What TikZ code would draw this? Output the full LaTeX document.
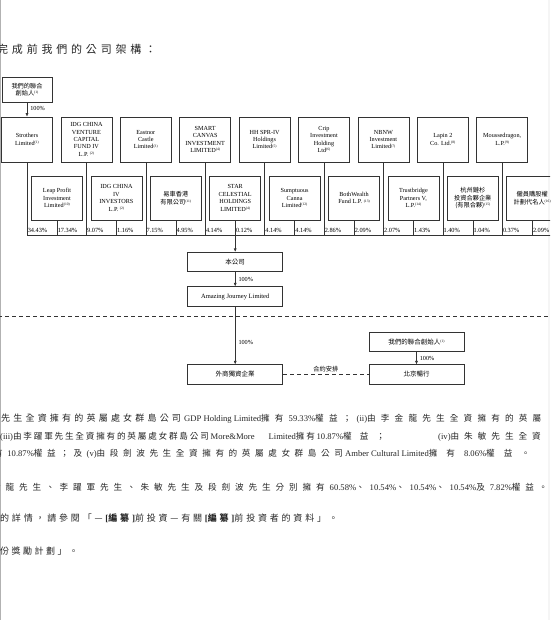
\documentclass[tikz,border=0pt]{standalone}
\usepackage{fontspec}
\setmainfont{Liberation Serif}
\newfontfamily\zh{Noto Sans CJK TC}
\usetikzlibrary{arrows.meta}
\newcommand\sn[1]{\raisebox{1.8pt}{\fontsize{3.6}{3.6}\selectfont(#1)}}
\newdimen\cgap
\def\zsEnd{\zsEnd}
\def\zsA#1{\ifx#1\zsEnd\else#1\kern\cgap\expandafter\zsA\fi}
\newcommand\zs[1]{{\zh\zsA#1\zsEnd}}
\newcommand\zb[1]{{\zh\bfseries\zsA#1\zsEnd}}
\tikzset{
  ln/.style={line width=0.6pt, draw=black!80},
  bx/.style={ln, draw, align=center, inner sep=0pt, font=\fontsize{6.2}{7.4}\selectfont},
  tb/.style={bx, minimum width=51, minimum height=45},
  sb/.style={bx, minimum width=51, minimum height=44},
  wb/.style={bx, minimum width=95, minimum height=19.5, font=\fontsize{6.5}{7.5}\selectfont},
  arr/.style={ln, -{Latex[length=3.5pt,width=3pt]}},
  pct/.style={anchor=base west, inner sep=0pt, font=\fontsize{6.3}{7}\selectfont},
  lbl/.style={inner sep=0pt, font=\fontsize{6.2}{7}\selectfont},
  para/.style={anchor=base west, inner sep=0pt, text=black!85, font=\fontsize{9}{10}\selectfont},
  dsh/.style={ln, dash pattern=on 4pt off 3pt},
}
\begin{document}
\begin{tikzpicture}[x=1pt,y=-1pt]
\useasboundingbox (0,0) rectangle (550,620);
\clip (0,0) rectangle (550,620);
\fill[white] (0,0) rectangle (550,620);
\fill[black!4] (547.5,0) rectangle (550,620);
\draw[black!30, line width=0.8pt] (0.6,0) -- (0.6,620);

% title
\node[anchor=base west, inner sep=0pt, text=black!85, font=\fontsize{11}{12}\selectfont] (title) at (-3,54) {\cgap=3.8pt\zs{完成前我們的公司架構：}};

% founder
\node[bx, minimum width=50, minimum height=25] (f1) at (27,89.5) {{\zh 我們的聯合}\\{\zh 創始人}\sn{1}};

% top row
\node[tb] (t1) at (27,139.5) {Strothers\\Limited\sn{1}};
\node[tb] (t2) at (86.4,139.5) {IDG CHINA\\VENTURE\\CAPITAL\\FUND IV\\L.P. \sn{2}};
\node[tb] (t3) at (145.8,139.5) {Eastnor\\Castle\\Limited\sn{3}};
\node[tb] (t4) at (205.2,139.5) {SMART\\CANVAS\\INVESTMENT\\LIMITED\sn{4}};
\node[tb] (t5) at (264.6,139.5) {HH SPR-IV\\Holdings\\Limited\sn{5}};
\node[tb] (t6) at (324,139.5) {Crip\\Investment\\Holding\\Ltd\sn{6}};
\node[tb] (t7) at (383.4,139.5) {NBNW\\Investment\\Limited\sn{7}};
\node[tb] (t8) at (442.8,139.5) {Lapin 2\\Co. Ltd.\sn{8}};
\node[tb] (t9) at (502.2,139.5) {Moussedragon,\\L.P.\sn{9}};

% second row
\node[sb] (b1) at (57,198) {Leap Profit\\Investment\\Limited\sn{10}};
\node[sb] (b2) at (116.4,198) {IDG CHINA\\IV\\INVESTORS\\L.P. \sn{2}};
\node[sb] (b3) at (175.8,198) {{\zh 易車香港}\\{\zh 有限公司}\sn{11}};
\node[sb] (b4) at (235.2,198) {STAR\\CELESTIAL\\HOLDINGS\\LIMITED\sn{4}};
\node[sb] (b5) at (294.6,198) {Sumptuous\\Canna\\Limited\sn{12}};
\node[sb] (b6) at (354,198) {BothWealth\\Fund L.P. \sn{13}};
\node[sb] (b7) at (413.4,198) {Trustbridge\\Partners V,\\L.P.\sn{14}};
\node[sb] (b8) at (472.8,198) {{\zh 杭州鏈杉}\\{\zh 投資合夥企業}\\{\zh (有限合夥)}\sn{15}};
\node[sb] (b9) at (532.2,198) {{\zh 僱員購股權}\\{\zh 計劃代名人}\sn{16}};

\draw[arr] (f1) -- node[lbl, anchor=west, xshift=3pt, yshift=1pt] {100\%} (t1);

% base line
\coordinate (base) at (0,235);
\coordinate (baseR) at (560,235);
\draw[ln] (t1.south |- base) -- (baseR);
\foreach \n/\p in {t1/34.43, t2/9.07, t3/7.15, t4/4.14, t5/4.14, t6/2.86, t7/2.07, t8/1.40, t9/0.37}{
  \draw[ln] (\n.south) -- (\n.south |- base);
  \node[pct] at ([xshift=0.6pt,yshift=3pt]\n.south |- base) {\p\%};
}
\foreach \n/\p in {b1/17.34, b2/1.16, b3/4.95, b4/0.12, b5/4.14, b6/2.09, b7/1.43, b8/1.04, b9/2.09}{
  \draw[ln] (\n.south) -- (\n.south |- base);
  \node[pct] at ([xshift=0.6pt,yshift=3pt]\n.south |- base) {\p\%};
}

% company chain
\node[wb] (co) at (235.2,262) {\zh 本公司};
\node[wb] (aj) at (235.2,296.5) {Amazing Journey Limited};
\node[wb] (wf) at (235.2,374.5) {\zh 外商獨資企業};
\node[wb] (f2) at (416.5,342) {{\zh 我們的聯合創始人}\sn{1}};
\node[wb] (bj) at (416.5,374.5) {\zh 北京暢行};

\draw[arr] (b4.south) -- (co);
\draw[arr] (co) -- node[lbl, anchor=west, xshift=3pt] {100\%} (aj);
\draw[arr] (aj) -- node[lbl, anchor=west, xshift=3pt, pos=0.62] {100\%} (wf);
\draw[arr] (f2) -- node[lbl, anchor=west, xshift=3pt] {100\%} (bj);
\draw[dsh] (wf) -- node[lbl, above=2.5pt] {\zh 合約安排} (bj);

\coordinate (dl) at (-2,316);
\coordinate (dr) at (552,316);
\draw[dsh] (dl) -- (dr);

% text
\node[para] (p1a) at (1,421.5) {\cgap=3.2pt\zs{先生全資擁有的英屬處女群島公司}};
\node[para] (p1b) at (184,421.5) {\cgap=5.2pt\fontsize{8.6}{10}\selectfont GDP Holding Limited\zs{擁有}59.33\%\zs{權益；}(ii)\zs{由李金龍先生全資擁有的英屬}};
\node[para] (p2a) at (0,439.5) {\cgap=1.8pt\fontsize{8.6}{10}\selectfont(iii)\zs{由李躍軍先生全資擁有的英屬處女群島公司}More\&More\hspace{14pt}Limited\zs{擁有}10.87\%\cgap=8pt\zs{權益；}};
\node[para] (p2b) at (438,439.5) {\cgap=5pt\fontsize{8.6}{10}\selectfont(iv)\zs{由朱敏先生全資}};
\node[para] (p3a) at (-6,456.5) {\cgap=4.6pt\fontsize{8.6}{10}\selectfont\zs{有}10.87\%\zs{權益；及}(v)\zs{由段劍波先生全資擁有的英屬處女群島公司}};
\node[para] (p3b) at (345,456.5) {\cgap=9pt\fontsize{8.6}{10}\selectfont Amber Cultural Limited\zs{擁有}8.06\%\zs{權益。}};
\node[para] (p4) at (-8,490) {\cgap=4.9pt\fontsize{8.6}{10}\selectfont\zs{金龍先生、李躍軍先生、朱敏先生及段劍波先生分別擁有}60.58\%\zs{、}10.54\%\zs{、}10.54\%\zs{、}10.54\%\zs{及}7.82\%\zs{權益。}};
\node[para] (p5) at (0,521) {\cgap=2.8pt\zs{的詳情，請參閱「—}\textbf{[}\zb{編纂}\textbf{]}\zs{前投資—有關}\textbf{[}\zb{編纂}\textbf{]}\zs{前投資者的資料」。}};
\node[para] (p6) at (0,554) {\cgap=2.5pt\zs{份獎勵計劃」。}};
\end{tikzpicture}
\end{document}
